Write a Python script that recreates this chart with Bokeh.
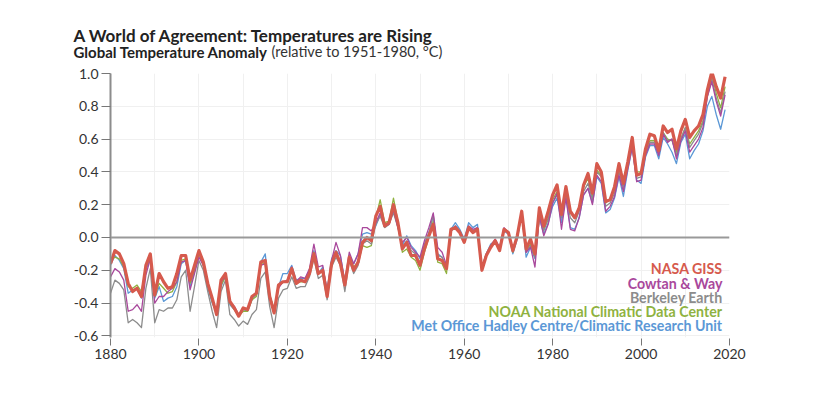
from bokeh.plotting import figure
from bokeh.models import Label, Span, FixedTicker, NumeralTickFormatter, Range1d
from bokeh.embed import file_html
from bokeh.resources import INLINE

years = list(range(1880, 2020))

nasa_giss = [
    -0.16, -0.08, -0.10, -0.16, -0.28, -0.33, -0.31, -0.36, -0.17, -0.10,
    -0.35, -0.22, -0.27, -0.31, -0.30, -0.22, -0.11, -0.11, -0.26, -0.17,
    -0.08, -0.15, -0.28, -0.37, -0.47, -0.26, -0.22, -0.39, -0.43, -0.48,
    -0.43, -0.44, -0.36, -0.34, -0.15, -0.14, -0.36, -0.46, -0.29, -0.27,
    -0.27, -0.19, -0.28, -0.26, -0.27, -0.22, -0.10, -0.22, -0.20, -0.36,
    -0.16, -0.09, -0.16, -0.29, -0.12, -0.20, -0.15, -0.03, -0.00, -0.02,
    0.13, 0.19, 0.07, 0.09, 0.20, 0.09, -0.07, -0.03, -0.11, -0.11,
    -0.17, -0.07, 0.01, 0.08, -0.13, -0.14, -0.19, 0.05, 0.06, 0.03,
    -0.03, 0.06, 0.03, 0.05, -0.20, -0.11, -0.06, -0.02, -0.08, 0.05,
    0.03, -0.08, 0.01, 0.16, -0.07, -0.01, -0.10, 0.18, 0.07, 0.16,
    0.26, 0.32, 0.14, 0.31, 0.16, 0.12, 0.18, 0.32, 0.39, 0.27,
    0.45, 0.40, 0.22, 0.23, 0.31, 0.45, 0.33, 0.46, 0.61, 0.38,
    0.39, 0.54, 0.63, 0.62, 0.53, 0.68, 0.64, 0.66, 0.54, 0.65,
    0.72, 0.61, 0.65, 0.68, 0.75, 0.90, 1.01, 0.92, 0.85, 0.98,
]

cowtan_way = [
    -0.24, -0.19, -0.21, -0.26, -0.45, -0.44, -0.41, -0.45, -0.23, -0.13,
    -0.40, -0.36, -0.36, -0.33, -0.31, -0.27, -0.15, -0.14, -0.32, -0.22,
    -0.12, -0.17, -0.29, -0.38, -0.46, -0.27, -0.24, -0.39, -0.42, -0.47,
    -0.43, -0.44, -0.37, -0.33, -0.17, -0.16, -0.37, -0.46, -0.31, -0.27,
    -0.26, -0.18, -0.27, -0.24, -0.25, -0.19, -0.04, -0.18, -0.17, -0.33,
    -0.14, -0.03, -0.11, -0.27, -0.09, -0.16, -0.10, 0.06, 0.06, 0.04,
    0.09, 0.15, 0.07, 0.08, 0.17, 0.06, -0.03, 0.00, -0.06, -0.09,
    -0.12, -0.02, 0.06, 0.15, -0.06, -0.09, -0.17, 0.04, 0.07, 0.04,
    -0.02, 0.07, 0.05, 0.06, -0.19, -0.10, -0.05, -0.01, -0.06, 0.06,
    0.03, -0.08, 0.00, 0.15, -0.09, -0.06, -0.18, 0.13, 0.01, 0.08,
    0.21, 0.27, 0.05, 0.24, 0.05, 0.04, 0.12, 0.26, 0.30, 0.20,
    0.38, 0.34, 0.16, 0.19, 0.25, 0.38, 0.28, 0.42, 0.55, 0.34,
    0.35, 0.50, 0.57, 0.57, 0.50, 0.63, 0.58, 0.60, 0.48, 0.59,
    0.65, 0.52, 0.56, 0.60, 0.67, 0.86, 0.95, 0.83, 0.74, 0.87,
]

berkeley_earth = [
    -0.34, -0.26, -0.28, -0.32, -0.52, -0.50, -0.52, -0.55, -0.31, -0.19,
    -0.52, -0.44, -0.45, -0.43, -0.43, -0.38, -0.24, -0.20, -0.45, -0.30,
    -0.14, -0.20, -0.33, -0.45, -0.55, -0.33, -0.26, -0.47, -0.50, -0.54,
    -0.51, -0.53, -0.47, -0.44, -0.25, -0.21, -0.42, -0.55, -0.37, -0.32,
    -0.31, -0.24, -0.31, -0.30, -0.30, -0.24, -0.13, -0.25, -0.23, -0.38,
    -0.18, -0.12, -0.17, -0.33, -0.14, -0.22, -0.17, -0.04, -0.02, -0.04,
    0.08, 0.13, 0.06, 0.08, 0.15, 0.06, -0.06, -0.02, -0.08, -0.10,
    -0.16, -0.05, 0.02, 0.14, -0.11, -0.12, -0.18, 0.04, 0.06, 0.03,
    -0.01, 0.07, 0.04, 0.06, -0.18, -0.10, -0.05, -0.02, -0.07, 0.05,
    0.03, -0.09, 0.00, 0.15, -0.09, -0.05, -0.12, 0.15, 0.04, 0.12,
    0.21, 0.26, 0.12, 0.27, 0.12, 0.09, 0.16, 0.28, 0.33, 0.23,
    0.40, 0.37, 0.19, 0.21, 0.27, 0.40, 0.30, 0.44, 0.57, 0.36,
    0.37, 0.51, 0.58, 0.58, 0.51, 0.64, 0.59, 0.60, 0.50, 0.60,
    0.67, 0.55, 0.59, 0.63, 0.70, 0.86, 0.97, 0.85, 0.76, 0.89,
]

noaa_ncdc = [
    -0.14, -0.12, -0.13, -0.18, -0.30, -0.31, -0.29, -0.33, -0.18, -0.12,
    -0.36, -0.28, -0.31, -0.34, -0.33, -0.27, -0.14, -0.13, -0.28, -0.20,
    -0.10, -0.17, -0.29, -0.39, -0.46, -0.29, -0.24, -0.40, -0.44, -0.48,
    -0.45, -0.45, -0.38, -0.36, -0.17, -0.15, -0.35, -0.44, -0.30, -0.27,
    -0.27, -0.20, -0.28, -0.27, -0.27, -0.22, -0.09, -0.21, -0.21, -0.34,
    -0.15, -0.10, -0.14, -0.28, -0.12, -0.18, -0.15, -0.05, -0.06, -0.05,
    0.12, 0.23, 0.09, 0.10, 0.24, 0.10, -0.09, -0.07, -0.12, -0.14,
    -0.20, -0.09, 0.00, 0.10, -0.15, -0.16, -0.22, 0.04, 0.07, 0.04,
    -0.02, 0.06, 0.04, 0.05, -0.19, -0.11, -0.05, -0.03, -0.07, 0.05,
    0.03, -0.09, 0.01, 0.14, -0.08, -0.04, -0.12, 0.13, 0.05, 0.11,
    0.23, 0.28, 0.16, 0.29, 0.15, 0.12, 0.19, 0.31, 0.36, 0.25,
    0.41, 0.38, 0.21, 0.24, 0.29, 0.42, 0.32, 0.46, 0.60, 0.40,
    0.40, 0.53, 0.59, 0.59, 0.53, 0.64, 0.60, 0.59, 0.52, 0.60,
    0.67, 0.57, 0.61, 0.65, 0.71, 0.90, 0.99, 0.88, 0.79, 0.92,
]

hadcrut = [
    -0.17, -0.11, -0.14, -0.19, -0.34, -0.32, -0.31, -0.37, -0.20, -0.13,
    -0.37, -0.30, -0.39, -0.37, -0.36, -0.30, -0.16, -0.14, -0.30, -0.21,
    -0.10, -0.17, -0.31, -0.40, -0.46, -0.30, -0.23, -0.41, -0.44, -0.47,
    -0.44, -0.45, -0.38, -0.35, -0.15, -0.10, -0.35, -0.44, -0.30, -0.22,
    -0.22, -0.17, -0.26, -0.25, -0.25, -0.20, -0.08, -0.22, -0.18, -0.32,
    -0.13, -0.08, -0.11, -0.27, -0.11, -0.16, -0.10, 0.02, 0.03, 0.02,
    0.07, 0.14, 0.08, 0.09, 0.16, 0.07, -0.05, 0.01, -0.05, -0.08,
    -0.13, -0.04, 0.03, 0.13, -0.10, -0.12, -0.19, 0.05, 0.09, 0.05,
    -0.01, 0.09, 0.06, 0.08, -0.18, -0.10, -0.04, -0.02, -0.06, 0.04,
    0.02, -0.10, -0.01, 0.14, -0.12, -0.06, -0.13, 0.12, 0.02, 0.09,
    0.19, 0.24, 0.09, 0.25, 0.06, 0.05, 0.12, 0.26, 0.30, 0.21,
    0.37, 0.33, 0.15, 0.17, 0.24, 0.37, 0.25, 0.41, 0.55, 0.35,
    0.33, 0.49, 0.56, 0.56, 0.48, 0.61, 0.57, 0.52, 0.45, 0.58,
    0.63, 0.48, 0.53, 0.57, 0.65, 0.80, 0.86, 0.75, 0.66, 0.78,
]

series_names = [
    "NASA GISS",
    "Cowtan & Way",
    "Berkeley Earth",
    "NOAA National Climatic Data Center",
    "Met Office Hadley Centre/Climatic Research Unit",
]
series_colors = ["#d65a4d", "#a9489c", "#8c8c8c", "#8fb23f", "#5b98d6"]
series_widths = [3.2, 1.3, 1.3, 1.3, 1.3]
series_values = [nasa_giss, cowtan_way, berkeley_earth, noaa_ncdc, hadcrut]

x_ticks = [1880, 1900, 1920, 1940, 1960, 1980, 2000, 2020]
x_grid = list(range(1880, 2021, 10))
y_ticks = [-0.6, -0.4, -0.2, 0.0, 0.2, 0.4, 0.6, 0.8, 1.0]

FONT = "Lato"
W = 800
HEAD_H = 65          # header strip with title and subtitle
H = 315              # main chart
BL, BR, BT, BB = 110, 71, 8, 43
X0, X1 = 1880, 2020
Y0, Y1 = -0.61, 1.0

# ---------- header (title + subtitle), its own root so nothing aligns it ----------
head = figure(width=W, height=HEAD_H, x_range=Range1d(0, W), y_range=Range1d(HEAD_H, 0),
              output_backend="svg", toolbar_location=None,
              x_axis_type=None, y_axis_type=None,
              min_border=0, min_border_left=0, min_border_right=0,
              min_border_top=0, min_border_bottom=0)
head.outline_line_color = None
head.grid.visible = False
head.background_fill_color = "white"
head.border_fill_color = "white"

head.add_layout(Label(x=73, y=35, text="A World of Agreement: Temperatures are Rising",
                      text_color="#222222", text_font=FONT, text_font_style="bold",
                      text_font_size="17px", text_align="left", text_baseline="alphabetic"))
head.add_layout(Label(x=73, y=51, text="Global Temperature Anomaly",
                      text_color="#222222", text_font=FONT, text_font_style="bold",
                      text_font_size="15px", text_align="left", text_baseline="alphabetic"))
head.add_layout(Label(x=271, y=51, text="(relative to 1951-1980, °C)",
                      text_color="#333333", text_font=FONT, text_font_style="normal",
                      text_font_size="14.5px", text_align="left", text_baseline="alphabetic"))

# ---------- main chart ----------
p = figure(width=W, height=H, x_range=(X0, X1), y_range=(Y0, Y1),
           output_backend="svg", toolbar_location=None,
           min_border_left=BL, min_border_right=BR,
           min_border_top=BT, min_border_bottom=BB)
p.outline_line_color = None
p.background_fill_color = "white"
p.border_fill_color = "white"

p.xgrid.ticker = FixedTicker(ticks=x_grid)
p.ygrid.ticker = FixedTicker(ticks=y_ticks)
p.xgrid.grid_line_color = "#f0f0f0"
p.ygrid.grid_line_color = "#f0f0f0"
p.xgrid.grid_line_width = 1
p.ygrid.grid_line_width = 1

p.xaxis.ticker = FixedTicker(ticks=x_ticks)
p.xaxis.axis_line_color = None
p.xaxis.major_tick_line_color = "#777777"
p.xaxis.major_tick_in = -1
p.xaxis.major_tick_out = 8
p.xaxis.minor_tick_line_color = None
p.xaxis.major_label_standoff = 3
p.xaxis.major_label_text_font = FONT
p.xaxis.major_label_text_font_size = "14px"
p.xaxis.major_label_text_color = "#333333"

p.yaxis.ticker = FixedTicker(ticks=y_ticks)
p.yaxis.formatter = NumeralTickFormatter(format="0.0")
p.yaxis.axis_line_color = "#8c8c8c"
p.yaxis.axis_line_width = 2
p.yaxis.major_tick_line_color = "#777777"
p.yaxis.major_tick_in = 0
p.yaxis.major_tick_out = 9
p.yaxis.minor_tick_line_color = None
p.yaxis.major_label_standoff = 3
p.yaxis.major_label_text_font = FONT
p.yaxis.major_label_text_font_size = "14px"
p.yaxis.major_label_text_color = "#333333"

p.add_layout(Span(location=0, dimension="width", line_color="#999999", line_width=2))

for i in [4, 3, 2, 1, 0]:
    p.line(years, series_values[i], line_color=series_colors[i],
           line_width=series_widths[i], line_join="round")

fw = W - BL - BR
fh = H - BT - BB
def px_x(page_x):
    return X0 + (page_x - BL) / fw * (X1 - X0)
def px_y(page_y):
    return Y1 - (page_y - HEAD_H - BT) / fh * (Y1 - Y0)

legend_y = [268, 283, 297, 311, 325]
for name, col, ly in zip(series_names, series_colors, legend_y):
    p.add_layout(Label(x=px_x(722), y=px_y(ly), text=name, text_color=col,
                       text_font=FONT, text_font_style="bold",
                       text_font_size="14.2px", text_align="right",
                       text_baseline="middle"))

open("out.html", "w").write(file_html([head, p], INLINE))
